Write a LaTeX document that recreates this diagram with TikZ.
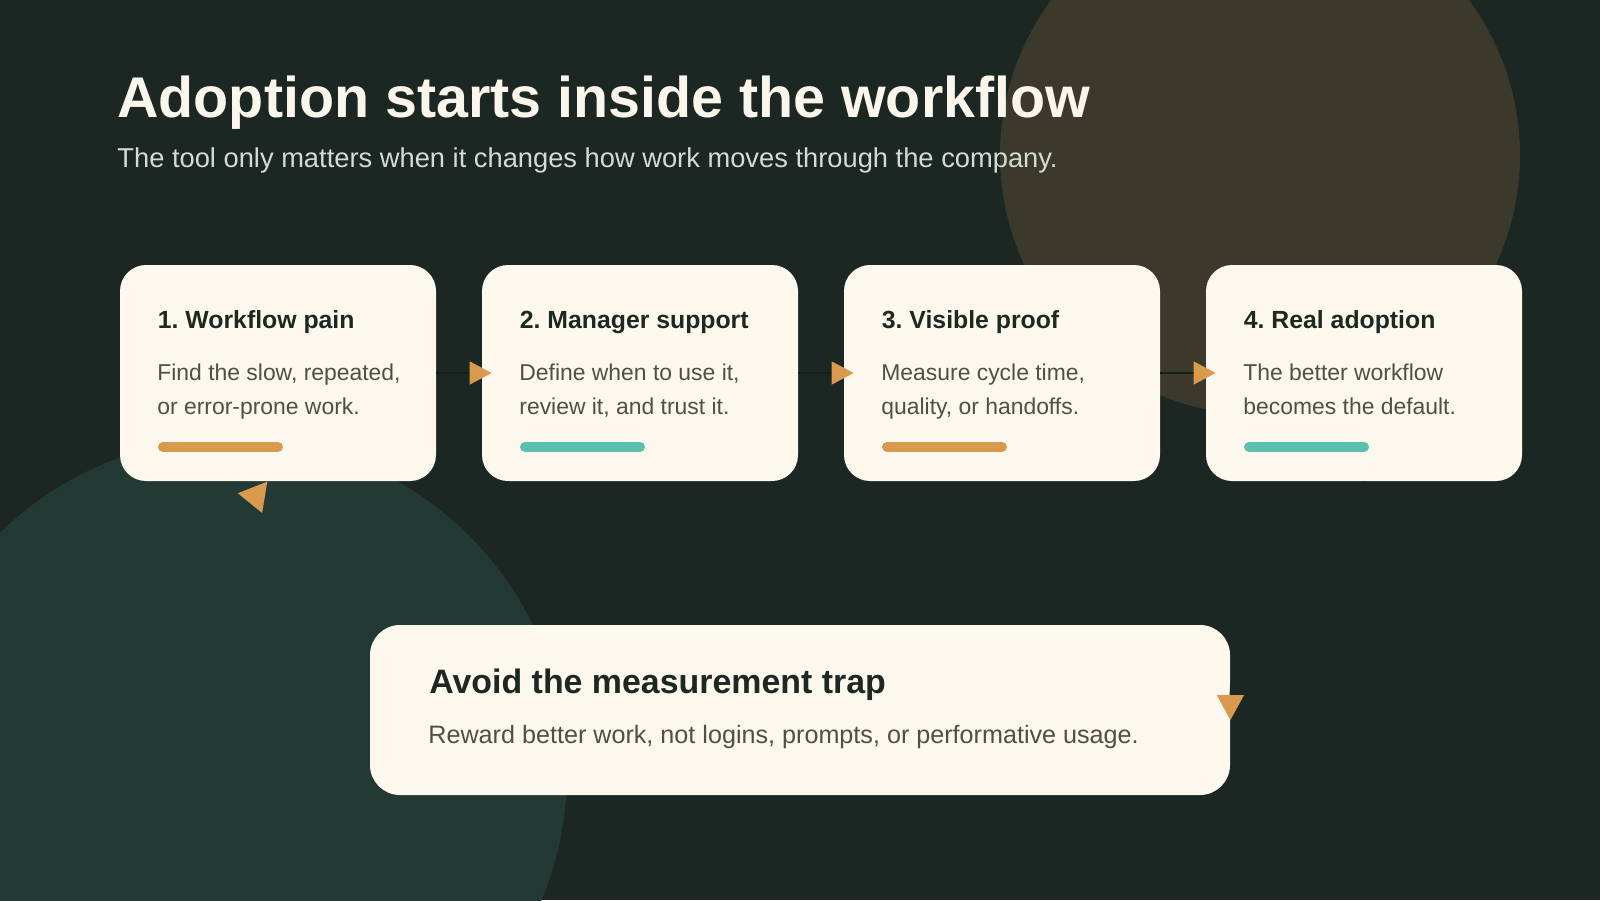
\documentclass[tikz,border=0pt]{standalone}
\usepackage{fontspec}
\setmainfont{Liberation Sans}
\usetikzlibrary{arrows.meta}
\definecolor{bgc}{HTML}{1C2622}
\definecolor{olivec}{HTML}{3A392B}
\definecolor{greenc}{HTML}{223A33}
\definecolor{cardc}{HTML}{FDF8EE}
\definecolor{titlec}{HTML}{FBF6EC}
\definecolor{subc}{HTML}{D5DAD3}
\definecolor{headc}{HTML}{1E2823}
\definecolor{bodyc}{HTML}{4C5048}
\definecolor{orangec}{HTML}{D99A4E}
\definecolor{tealc}{HTML}{5BBFAE}
\definecolor{linec}{HTML}{161E1A}
\frenchspacing
\begin{document}
\frenchspacing
\begin{tikzpicture}[x=0.5pt,y=-0.5pt,
  card/.style={rectangle, rounded corners=13pt, fill=cardc, minimum width=158pt, minimum height=108pt, inner sep=0pt},
  trapbox/.style={rectangle, rounded corners=15pt, fill=cardc, minimum width=430pt, minimum height=85pt, inner sep=0pt},
  txt/.style={anchor=base west, inner sep=0pt},
  maintitle/.style={txt, text=titlec, font=\fontsize{28.7pt}{34pt}\selectfont\bfseries},
  subtitle/.style={txt, text=subc, font=\fontsize{13.65pt}{16pt}\selectfont},
  cardtitle/.style={txt, text=headc, font=\fontsize{12.4pt}{15pt}\selectfont\bfseries},
  cardbody/.style={txt, text=bodyc, font=\fontsize{11.45pt}{14pt}\selectfont},
  traptitle/.style={txt, text=headc, font=\fontsize{16.95pt}{20pt}\selectfont\bfseries},
  trapbody/.style={txt, text=bodyc, font=\fontsize{12.58pt}{15pt}\selectfont},
  bar/.style={line width=5pt, line cap=round},
  conn/.style={draw=linec, line width=0.75pt, shorten >=-5pt},
]
\useasboundingbox (0,0) rectangle (1600,900);
\fill[bgc] (0,0) rectangle (1600,900);
\begin{scope}
  \clip (0,0) rectangle (1600,900);
  \fill[olivec] (1260,155) circle[radius=130pt];
  \fill[greenc] (233,772) circle[radius=167pt];
\end{scope}

% title
\node[maintitle] (title) at (117,117) {Adoption starts inside the workflow};
\node[subtitle] (sub) at (117,167) {The tool only matters when it changes how work moves through the company.};

% cards
\node[card] (c1) at (278,373) {};
\node[card] (c2) at (640,373) {};
\node[card] (c3) at (1002,373) {};
\node[card] (c4) at (1364,373) {};
\node[trapbox] (trap) at (800,710) {};

% card 1
\node[cardtitle] (c1t) at (157.5,328) {1. Workflow pain};
\node[cardbody] (c1a) at (157,380) {Find the slow, repeated,};
\node[cardbody] (c1b) at (157,414) {or error-prone work.};
\draw[bar, orangec] (163,447) -- (278,447);
% card 2
\node[cardtitle] (c2t) at (519.5,328) {2. Manager support};
\node[cardbody] (c2a) at (519,380) {Define when to use it,};
\node[cardbody] (c2b) at (519,414) {review it, and trust it.};
\draw[bar, tealc] (525,447) -- (640,447);
% card 3
\node[cardtitle] (c3t) at (881.5,328) {3. Visible proof};
\node[cardbody] (c3a) at (881,380) {Measure cycle time,};
\node[cardbody] (c3b) at (881,414) {quality, or handoffs.};
\draw[bar, orangec] (887,447) -- (1002,447);
% card 4
\node[cardtitle] (c4t) at (1243.5,328) {4. Real adoption};
\node[cardbody] (c4a) at (1243,380) {The better workflow};
\node[cardbody] (c4b) at (1243,414) {becomes the default.};
\draw[bar, tealc] (1249,447) -- (1364,447);

% trap
\node[traptitle] (tt) at (429,693) {Avoid the measurement trap};
\node[trapbody] (tb) at (428,743) {Reward better work, not logins, prompts, or performative usage.};

% connectors
\draw[conn, -{Triangle[length=11pt,width=11.5pt,color=orangec]}] (c1.east) -- (c2.west);
\draw[conn, -{Triangle[length=11pt,width=11.5pt,color=orangec]}] (c2.east) -- (c3.west);
\draw[conn, -{Triangle[length=11pt,width=11.5pt,color=orangec]}] (c3.east) -- (c4.west);
\draw[conn, draw=bgc, -{Triangle[length=12.5pt,width=13.5pt,color=orangec]}] (c4.south) .. controls +(0,120) and +(0,-120) .. (trap.east);
\draw[conn, draw=greenc, -{Triangle[length=13.8pt,width=15.5pt,color=orangec]}] (trap.west) .. controls +(-90,0) and +(-50,62) .. ([shift={(-17,8)}]c1.south);
\end{tikzpicture}
\end{document}
